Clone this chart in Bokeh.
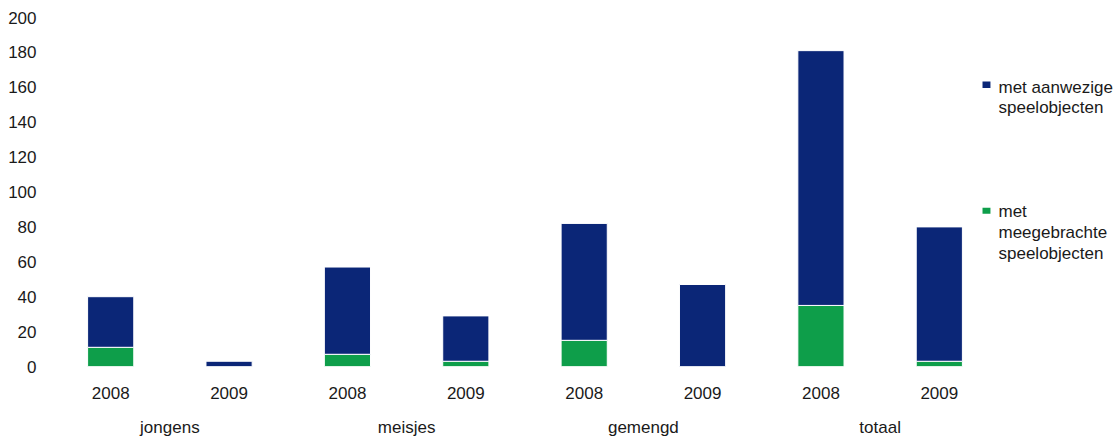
from bokeh.plotting import figure
from bokeh.layouts import row
from bokeh.models import (FactorRange, Range1d, CategoricalAxis, ColumnDataSource,
                          Label, SingleIntervalTicker, BoxAnnotation)
from bokeh.embed import file_html
from bokeh.resources import INLINE

groups = ["jongens", "meisjes", "gemengd", "totaal"]
years = ["2008", "2009"]
meegebracht = [11, 0, 7, 3, 15, 0, 35, 3]      # green, bottom
aanwezig = [29, 3, 50, 26, 67, 47, 146, 77]    # navy, top
legend_aanwezig = ["met aanwezige", "speelobjecten"]
legend_meegebracht = ["met", "meegebrachte", "speelobjecten"]

NAVY = "#0b2677"
GREEN = "#0e9e4a"
TXT = "#1a1a1a"
FONT = "Liberation Sans"
FS = "17px"

factors = [(g, y) for g in groups for y in years]
source = ColumnDataSource(dict(x=factors, meegebracht=meegebracht, aanwezig=aanwezig))

p = figure(x_range=FactorRange(*factors, factor_padding=0, group_padding=0, range_padding=0),
           y_range=Range1d(0, 200), width=998, height=439,
           output_backend="svg", toolbar_location=None,
           min_border_left=51, min_border_right=0, min_border_top=17, min_border_bottom=73,
           outline_line_color=None)

p.vbar_stack(["meegebracht", "aanwezig"], x="x", width=0.39, color=[GREEN, NAVY],
             line_color="white", line_width=1, source=source)

p.xgrid.grid_line_color = None
p.ygrid.grid_line_color = None

# y axis
ya = p.yaxis[0]
ya.ticker = SingleIntervalTicker(interval=20)
ya.axis_line_color = None
ya.major_tick_line_color = None
ya.minor_tick_line_color = None
ya.major_tick_out = 0
ya.major_tick_in = 0
ya.minor_tick_out = 0
ya.minor_tick_in = 0
ya.major_label_standoff = 15
ya.major_label_text_font = FONT
ya.major_label_text_font_size = FS
ya.major_label_text_color = TXT

# x axis (years)
xa = p.xaxis[0]
xa.axis_line_color = None
xa.major_tick_line_color = None
xa.minor_tick_line_color = None
xa.major_tick_out = 0
xa.major_tick_in = 0
xa.major_label_standoff = 20
xa.major_label_text_font = FONT
xa.major_label_text_font_size = FS
xa.major_label_text_color = TXT
xa.group_text_font_size = "1px"
xa.group_text_color = None
try:
    xa.separator_line_color = None
except Exception:
    pass

# group axis
p.extra_x_ranges = {"groups": FactorRange(*groups, factor_padding=0, range_padding=0)}
ga = CategoricalAxis(x_range_name="groups")
ga.axis_line_color = None
ga.major_tick_line_color = None
ga.minor_tick_line_color = None
ga.major_tick_out = 0
ga.major_tick_in = 0
ga.major_label_standoff = 16
ga.major_label_text_font = FONT
ga.major_label_text_font_size = FS
ga.major_label_text_color = TXT
try:
    ga.separator_line_color = None
except Exception:
    pass
p.add_layout(ga, "below")

# legend swatches (inside main frame, at its right edge)
p.add_layout(BoxAnnotation(left=7.865, right=7.932, bottom=159.6, top=163.3,
                           fill_color=NAVY, fill_alpha=1, line_color=None))
p.add_layout(BoxAnnotation(left=7.865, right=7.932, bottom=87.6, top=91.0,
                           fill_color=GREEN, fill_alpha=1, line_color=None))

# legend texts in a narrow side figure with the same vertical scale
lg = figure(width=122, height=439, x_range=Range1d(0, 122), y_range=Range1d(0, 200),
            x_axis_type=None, y_axis_type=None, output_backend="svg", toolbar_location=None,
            min_border_left=0, min_border_right=0, min_border_top=17, min_border_bottom=73,
            outline_line_color=None)
lg.grid.visible = False
for i, t in enumerate(legend_aanwezig):
    lg.add_layout(Label(x=0, y=159.6 - i * 11.1, text=t, text_font=FONT,
                        text_font_size=FS, text_color=TXT, text_baseline="alphabetic"))
for i, t in enumerate(legend_meegebracht):
    lg.add_layout(Label(x=0, y=89.0 - i * 12.0, text=t, text_font=FONT,
                        text_font_size=FS, text_color=TXT, text_baseline="alphabetic"))

layout = row(p, lg, spacing=0)
open("out.html", "w").write(file_html(layout, INLINE))
